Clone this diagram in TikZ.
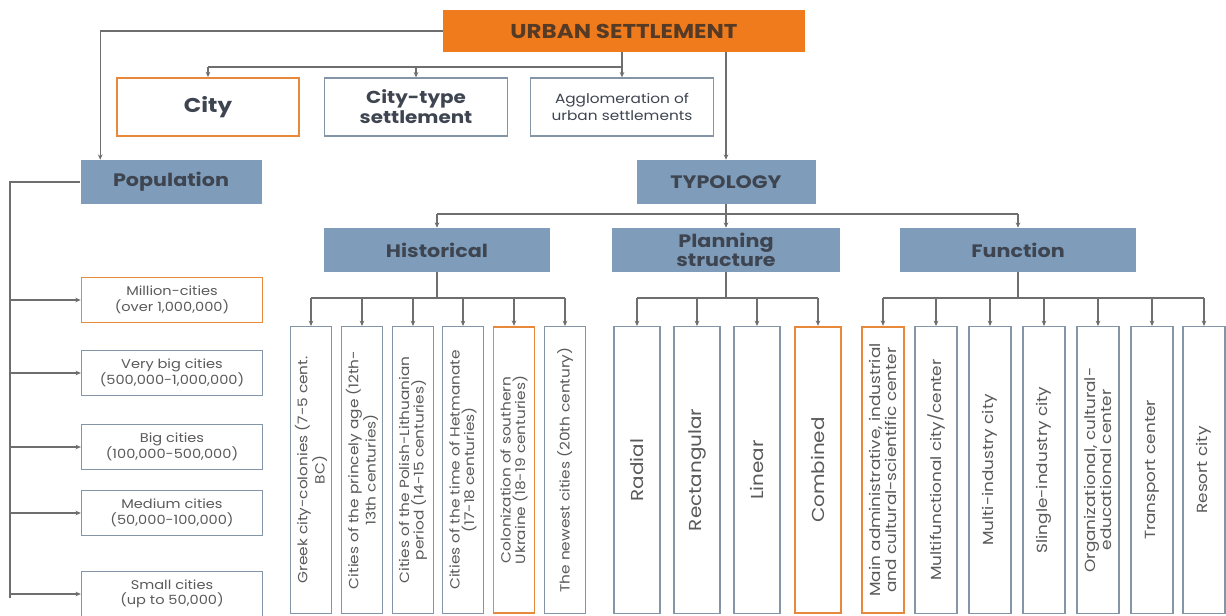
\documentclass[tikz,border=0pt]{standalone}
\usepackage{fontspec}
\setmainfont{Poppins}[FakeStretch=1.15]
\usetikzlibrary{positioning,arrows.meta,calc}

\definecolor{orangefill}{HTML}{F07B1C}
\definecolor{orangeline}{HTML}{E8883A}
\definecolor{steelblue}{HTML}{7F9DBA}
\definecolor{boxgray}{HTML}{8495A8}
\definecolor{linegray}{HTML}{6E6E6E}
\definecolor{headtext}{HTML}{553A26}
\definecolor{darktext}{HTML}{3E4551}
\definecolor{lighttext}{HTML}{5A5A5A}

\tikzset{
  head/.style={fill=orangefill, text=headtext, font=\bfseries\fontsize{15}{17}\selectfont,
    minimum width=271.5pt, minimum height=31.5pt},
  group/.style={fill=steelblue, text=darktext, align=center,
    font=\bfseries\fontsize{13.5}{14.5}\selectfont, minimum height=33pt, inner sep=1pt},
  kind/.style={draw=boxgray, line width=1pt, fill=white, align=center, text=darktext,
    font=\bfseries\fontsize{13}{15}\selectfont, minimum width=137pt, minimum height=43.5pt},
  cat/.style={draw=boxgray, line width=1pt, fill=white, align=center, text=lighttext,
    font=\fontsize{9.5}{11.5}\selectfont, minimum width=135.75pt, minimum height=33.75pt},
  leaf/.style={draw=boxgray, line width=1pt, fill=white, rotate=90, align=center,
    text=lighttext, minimum width=215pt, inner sep=1pt},
  hleaf/.style={leaf, minimum height=30.75pt, font=\fontsize{10}{11}\selectfont},
  sleaf/.style={leaf, minimum height=34.5pt, font=\fontsize{13}{15}\selectfont},
  fleaf/.style={leaf, minimum height=31.5pt, font=\fontsize{11}{12}\selectfont},
  hot/.style={draw=orangeline, line width=1.3pt},
  link/.style={draw=linegray, line width=0.8pt},
  arr/.style={link, -{Stealth[length=4pt,width=3.5pt]}}
}

\begin{document}
\begin{tikzpicture}[x=0.75pt,y=-0.75pt]
\useasboundingbox (0,0) rectangle (1226,616);

% top level
\node[head] (urban) at (624,31) {URBAN SETTLEMENT};
\node[kind,hot,font=\bfseries\fontsize{15}{17}\selectfont] (city) at (208,107) {City};
\node[kind] (cts) at (416,107) {City-type\\settlement};
\node[kind,font=\fontsize{10}{12.5}\selectfont] (aggl) at (622,107) {Agglomeration of\\urban settlements};

\node[group,minimum width=135.75pt] (pop) at (171,182) {Population};
\node[group,minimum width=134.25pt] (typo) at (726,182) {TYPOLOGY};

\node[group,minimum width=170pt] (hist) at (437,250) {Historical};
\node[group,minimum width=171pt] (plan) at (726,250) {Planning\\structure};
\node[group,minimum width=177pt] (func) at (1018,250) {Function};

% population classes
\node[cat,hot] (c1) at (172,300) {Million-cities\\(over 1,000,000)};
\node[cat] (c2) at (172,373) {Very big cities\\(500,000-1,000,000)};
\node[cat] (c3) at (172,447) {Big cities\\(100,000-500,000)};
\node[cat] (c4) at (172,513) {Medium cities\\(50,000-100,000)};
\node[cat] (c5) at (172,594) {Small cities\\(up to 50,000)};

% historical
\node[hleaf] (h1) at (311,470) {Greek city-colonies (7-5 cent.\\BC)};
\node[hleaf] (h2) at (362,470) {Cities of the princely age (12th-\\13th centuries)};
\node[hleaf] (h3) at (413,470) {Cities of the Polish-Lithuanian\\period (14-15 centuries)};
\node[hleaf] (h4) at (463,470) {Cities of the time of Hetmanate\\(17-18 centuries)};
\node[hleaf,hot] (h5) at (514,470) {Colonization of southern\\Ukraine (18-19 centuries)};
\node[hleaf] (h6) at (565,470) {The newest cities (20th century)};

% planning
\node[sleaf] (s1) at (637,470) {Radial};
\node[sleaf] (s2) at (697,470) {Rectangular};
\node[sleaf] (s3) at (757,470) {Linear};
\node[sleaf,hot] (s4) at (818,470) {Combined};

% function
\node[fleaf,hot] (f1) at (883,470) {Main administrative, industrial\\and cultural-scientific center};
\node[fleaf] (f2) at (936,470) {Multifunctional city/center};
\node[fleaf] (f3) at (990,470) {Multi-industry city};
\node[fleaf] (f4) at (1044,470) {Slingle-industry city};
\node[fleaf] (f5) at (1098,470) {Organizational, cultural-\\educational center};
\node[fleaf] (f6) at (1152,470) {Transport center};
\node[fleaf] (f7) at (1204,470) {Resort city};

\coordinate (cbar) at (0,67);
\coordinate (tbar) at (0,214);
\coordinate (lbar) at (0,298);
\coordinate (pbus) at (10,598);

% connectors
\draw[arr] (urban.west) -| ($(pop.north west)+(20,0)$);
\draw[arr] (urban.south -| aggl.north) -- (aggl.north);
\draw[link] (aggl.north |- cbar) -- (city.north |- cbar);
\draw[arr] (city.north |- cbar) -- (city.north);
\draw[arr] (cts.north |- cbar) -- (cts.north);
\draw[arr] (urban.south -| typo.north) -- (typo.north);

\draw[link] (pop.west) -| (pbus);
\foreach \c in {c1,c2,c3,c4,c5}
  \draw[arr] (pbus |- \c.west) -- (\c.west);

\draw[link] (typo.south) -- (typo.south |- tbar);
\draw[link] (hist.north |- tbar) -- (func.north |- tbar);
\foreach \g in {hist,plan,func}
  \draw[arr] (\g.north |- tbar) -- (\g.north);

\foreach \g/\a/\b in {hist/h1/h6, plan/s1/s4, func/f1/f7} {
  \draw[link] (\g.south) -- (\g.south |- lbar);
  \draw[link] (\a.east |- lbar) -- (\b.east |- lbar);
}
\foreach \l in {h1,h2,h3,h4,h5,h6,s1,s2,s3,s4,f1,f2,f3,f4,f5,f6,f7}
  \draw[arr] (\l.east |- lbar) -- (\l.east);
\end{tikzpicture}
\end{document}
